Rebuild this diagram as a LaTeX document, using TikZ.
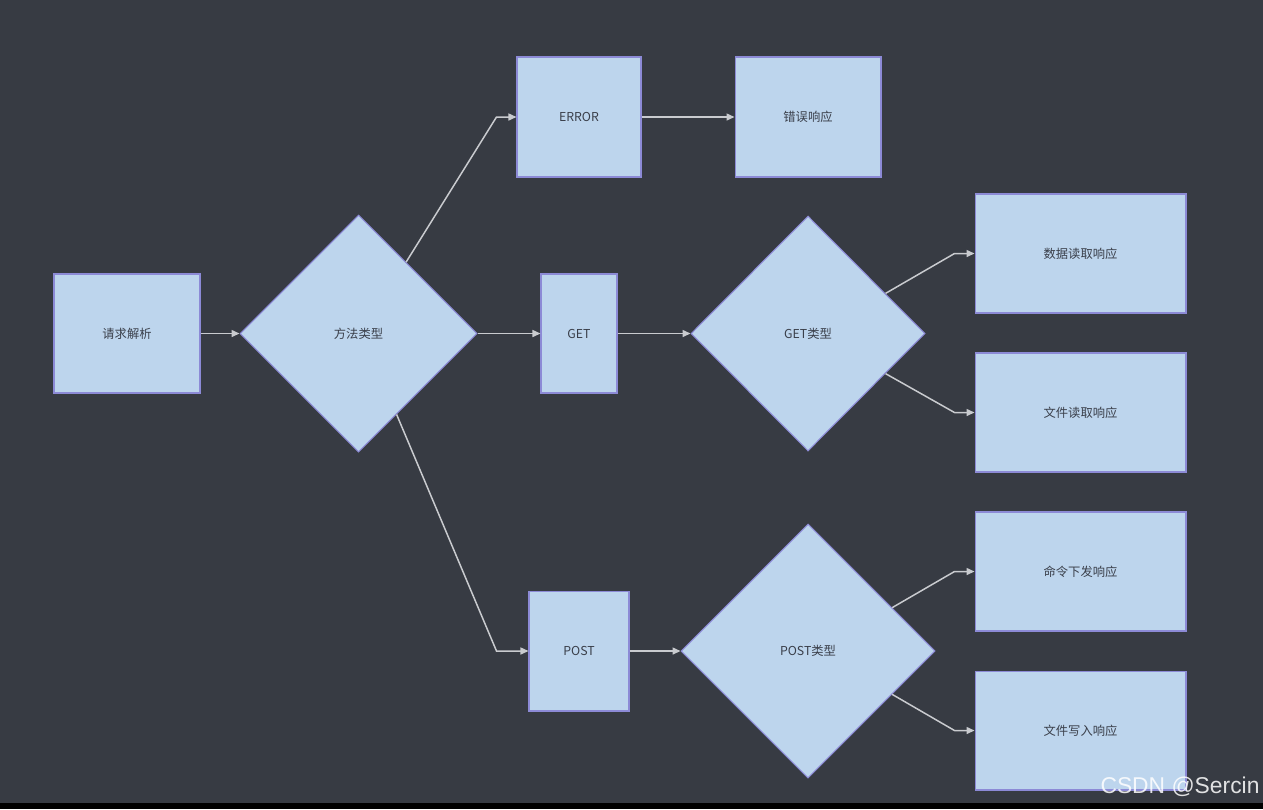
\documentclass[tikz,border=0pt]{standalone}
\usepackage{fontspec}
\setmainfont{Noto Sans CJK SC}
\newfontfamily\wmfont{Liberation Sans}
\usepackage{tikz}
\usetikzlibrary{shapes.geometric,arrows.meta,calc}

\begin{document}
\begin{tikzpicture}[x=0.02cm,y=-0.02cm,
  box/.style={draw=colBorder, fill=colBox, line width=0.6pt, inner sep=0pt,
    text=colText, font=\fontsize{7}{8}\selectfont},
  decision/.style={box, diamond, aspect=1},
  link/.style={draw=colLine, line width=0.85pt, -{Triangle[length=0.16cm,width=0.14cm]}}]

% Colori
\definecolor{colBg}{HTML}{373B43}
\definecolor{colBox}{HTML}{BDD5ED}
\definecolor{colBorder}{HTML}{8C8AD6}
\definecolor{colText}{HTML}{3A3F4A}
\definecolor{colLine}{HTML}{C9CBCF}

% Sfondo
\useasboundingbox (0,0) rectangle (1263,809);
\fill[colBg] (0,0) rectangle (1263,809);
\fill[black] (0,803) rectangle (1263,809);

% Nodi
\node[box, minimum width=2.92cm, minimum height=2.38cm] (req) at (127,333.5) {请求解析};
\node[decision, minimum width=4.74cm, minimum height=4.74cm] (meth) at (358.5,333.5) {方法类型};

\node[box, minimum width=2.48cm, minimum height=2.4cm] (err) at (579,117) {ERROR};
\node[box, minimum width=2.92cm, minimum height=2.4cm] (errResp) at (808,117) {错误响应};

\node[box, minimum width=1.52cm, minimum height=2.38cm] (get) at (579,333.5) {GET};
\node[decision, minimum width=4.68cm, minimum height=4.7cm] (getType) at (808,333.5) {GET类型};
\node[box, minimum width=4.22cm, minimum height=2.38cm] (dataRead) at (1080.5,253.5) {数据读取响应};
\node[box, minimum width=4.22cm, minimum height=2.38cm] (fileRead) at (1080.5,412.5) {文件读取响应};

\node[box, minimum width=2.0cm, minimum height=2.4cm] (post) at (579,651) {POST};
\node[decision, minimum width=5.08cm, minimum height=5.08cm] (postType) at (808,651) {POST类型};
\node[box, minimum width=4.22cm, minimum height=2.38cm] (cmdSend) at (1080.5,571.5) {命令下发响应};
\node[box, minimum width=4.22cm, minimum height=2.38cm] (fileWrite) at (1080.5,730.5) {文件写入响应};

% Collegamenti
\draw[link] (req.east) -- (meth.west);
\draw[link] ($(meth.north)!0.4!(meth.east)$) -- ($(err.west)+(-20,0)$) -- (err.west);
\draw[link] (meth.east) -- (get.west);
\draw[link] ($(meth.south)!0.32!(meth.east)$) -- ($(post.west)+(-32,0)$) -- (post.west);
\draw[link] (err.east) -- (errResp.west);

\draw[link] (get.east) -- (getType.west);
\draw[link] ($(getType.north)!0.66!(getType.east)$) -- ($(dataRead.west)+(-20,0)$) -- (dataRead.west);
\draw[link] ($(getType.south)!0.66!(getType.east)$) -- ($(fileRead.west)+(-20,0)$) -- (fileRead.west);

\draw[link] (post.east) -- (postType.west);
\draw[link] ($(postType.north)!0.66!(postType.east)$) -- ($(cmdSend.west)+(-20,0)$) -- (cmdSend.west);
\draw[link] ($(postType.south)!0.66!(postType.east)$) -- ($(fileWrite.west)+(-20,0)$) -- (fileWrite.west);

% Filigrana
\node[text=white, opacity=0.85, font=\wmfont\fontsize{13}{14}\selectfont] (wm) at (1180,787) {CSDN @Sercin};

\end{tikzpicture}
\end{document}
